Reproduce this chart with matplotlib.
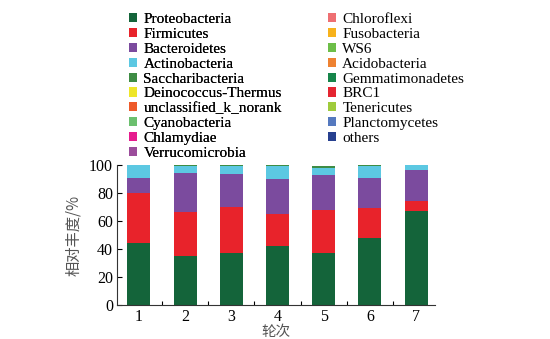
import numpy as np
import matplotlib.pyplot as plt
from matplotlib.patches import Patch

plt.rcParams['font.family'] = ['Liberation Serif', 'Noto Sans CJK SC']

# 轮次
rounds = [1, 2, 3, 4, 5, 6, 7]

# legend entries and colours
taxa = ['Proteobacteria', 'Firmicutes', 'Bacteroidetes', 'Actinobacteria',
        'Saccharibacteria', 'Deinococcus-Thermus', 'unclassified_k_norank',
        'Cyanobacteria', 'Chlamydiae', 'Verrucomicrobia',
        'Chloroflexi', 'Fusobacteria', 'WS6', 'Acidobacteria',
        'Gemmatimonadetes', 'BRC1', 'Tenericutes', 'Planctomycetes', 'others']
colors = ['#14643A', '#E8232B', '#7B4B9E', '#5CC8E2',
          '#3E8C44', '#EEE629', '#EE5A2A',
          '#6BBF6E', '#E61C8E', '#9B4D9B',
          '#EE6F72', '#F7B21C', '#6DBE48', '#EE8232',
          '#16854A', '#E42531', '#9FCB3C', '#5579BF', '#27408F']

# relative abundance (%)
proteo = [44.0, 35.0, 37.4, 42.4, 36.9, 48.1, 67.1]
firmi = [35.8, 31.7, 32.8, 22.6, 31.0, 21.4, 7.4]
bactero = [10.7, 27.3, 23.1, 25.0, 24.7, 21.0, 21.9]
actino = [9.3, 5.2, 6.4, 9.3, 5.2, 9.0, 3.6]
saccha = [0.2, 0.8, 0.3, 0.7, 1.2, 0.5, 0.0]

series = [proteo, firmi, bactero, actino, saccha]

fig = plt.figure(figsize=(5.5, 3.39), dpi=100)
ax = fig.add_axes([0.213, 0.100, 0.578, 0.413])

bottom = np.zeros(len(rounds))
for vals, c in zip(series, colors):
    ax.bar(rounds, vals, width=0.5, bottom=bottom, color=c, linewidth=0)
    bottom += np.array(vals)

ax.set_xlim(0.53, 7.41)
ax.set_ylim(0, 100)
ax.set_yticks([0, 20, 40, 60, 80, 100])
ax.set_xticks(rounds)
ax.set_xticks(np.arange(1.5, 7.5, 1), minor=True)
ax.tick_params(axis='x', which='major', length=0, labelsize=11.5, pad=3)
ax.tick_params(axis='x', which='minor', direction='in', length=3, width=0.8)
ax.tick_params(axis='y', direction='in', length=3.5, width=0.8, labelsize=11.5, pad=3)
for s in ['top', 'right']:
    ax.spines[s].set_visible(False)
for s in ['left', 'bottom']:
    ax.spines[s].set_linewidth(0.8)
    ax.spines[s].set_color('#333333')

ax.set_ylabel('相对丰度/%', family=['Noto Sans CJK SC'], fontsize=11,
              color='#555555', labelpad=5)
ax.set_xlabel('轮次', family=['Noto Sans CJK SC'], fontsize=10.5,
              color='#555555', labelpad=0)

handles = [Patch(facecolor=c, edgecolor='none') for c in colors]
leg_kw = dict(loc='upper left', frameon=False, fontsize=11,
              handlelength=0.55, handleheight=0.55, handletextpad=0.4,
              labelspacing=0.12, borderaxespad=0, borderpad=0)
leg1 = fig.legend(handles[:10], taxa[:10], bbox_to_anchor=(0.2345, 0.961), **leg_kw)
fig.add_artist(leg1)
fig.legend(handles[10:], taxa[10:], bbox_to_anchor=(0.596, 0.961), **leg_kw)

fig.savefig('out.png', dpi=100)
